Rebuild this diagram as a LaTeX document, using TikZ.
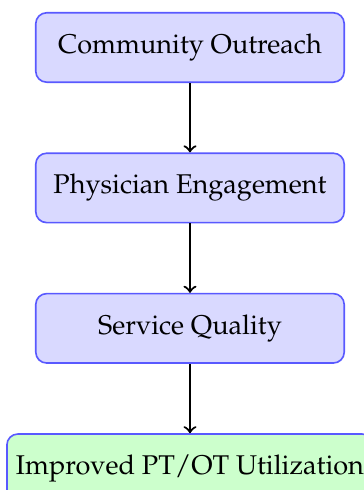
\documentclass[tikz,border=0pt]{standalone}
\usepackage[T1]{fontenc}
\usepackage{mathpazo}
\usetikzlibrary{positioning}
\begin{document}
\begin{tikzpicture}[node distance=0.9cm,
  stage/.style={draw=blue!65, fill=blue!15, rounded corners, semithick,
    minimum width=4cm, minimum height=0.9cm},
  result/.style={stage, fill=green!20}]
%\draw[help lines, color=gray!30, dashed] (-2.5,-5.8) grid (2.3,0.7);
\useasboundingbox (-2.464,0.616) rectangle (2.244,-5.739);
\node[stage] (outreach) at (0,0) {Community Outreach};
\node[stage, below=of outreach] (engage) {Physician Engagement};
\node[stage, below=of engage] (quality) {Service Quality};
\node[result, below=of quality] (util) {Improved PT/OT Utilization};
\draw[->, thick] (outreach)--(engage);
\draw[->, thick] (engage)--(quality);
\draw[->, thick] (quality)--(util);
\end{tikzpicture}
\end{document}
